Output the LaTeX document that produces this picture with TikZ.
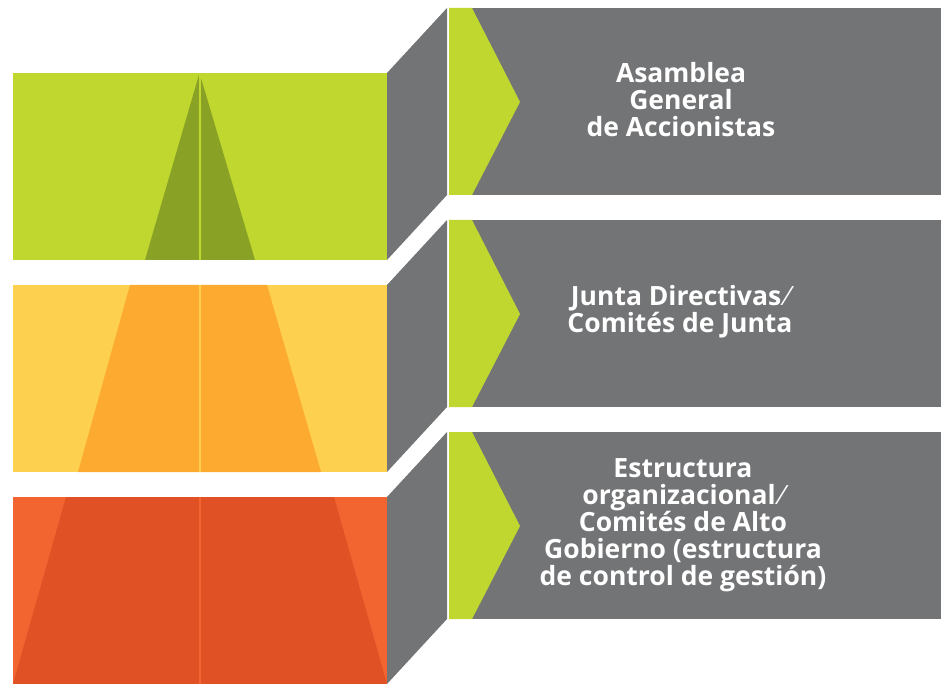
\documentclass[tikz,border=0pt]{standalone}
\usepackage{fontspec}
\setmainfont{Open Sans}
\usetikzlibrary{positioning}

\tikzset{
  titulo/.style={text=white, align=center, inner sep=0pt,
    font=\bfseries\fontsize{26.5}{27}\selectfont},
  panel/.style={fill=gris},
}

\begin{document}
\begin{tikzpicture}[x=1pt,y=-1pt]
      \definecolor{gris}{HTML}{737476}
      \definecolor{verde}{HTML}{C0D72F}
      \definecolor{verdeO}{HTML}{89A225}
      \definecolor{amar}{HTML}{FDD14F}
      \definecolor{naranja}{HTML}{FCAA30}
      \definecolor{rojo}{HTML}{F26531}
      \definecolor{rojoO}{HTML}{E05225}
      \useasboundingbox (0,0) rectangle (941,684);
      % nivel 1
      \fill[verde] (13,73) rectangle (387,260);
      \fill[verdeO] (199.5,73) -- (255,260) -- (145,260) -- cycle;
      \fill[verde] (198.5,73) rectangle (200.8,260);
      \fill[panel] (387,73) -- (447,8) -- (447,195) -- (387,260) -- cycle;
      \fill[panel] (449,8) rectangle (941,195);
      \fill[verde] (449,8) -- (472,8) -- (520,102) -- (472,195) -- (449,195) -- cycle;
      % nivel 2
      \fill[amar] (13,285) rectangle (387,472);
      \fill[naranja] (130,285) -- (267,285) -- (321,472) -- (78,472) -- cycle;
      \fill[amar] (198.5,285) rectangle (200.8,472);
      \fill[panel] (387,285) -- (447,220) -- (447,407) -- (387,472) -- cycle;
      \fill[panel] (449,220) rectangle (941,407);
      \fill[verde] (449,220) -- (472,220) -- (520,314) -- (472,407) -- (449,407) -- cycle;
      % nivel 3
      \fill[rojo] (13,497) rectangle (387,684);
      \fill[rojoO] (66,497) -- (334,497) -- (387,684) -- (13,684) -- cycle;
      \fill[rojo] (198.5,497) rectangle (200.8,684);
      \fill[panel] (387,497) -- (447,432) -- (447,619) -- (387,684) -- cycle;
      \fill[panel] (449,432) rectangle (941,619);
      \fill[verde] (449,432) -- (472,432) -- (520,526) -- (472,619) -- (449,619) -- cycle;
      % textos
      \node[titulo] (asamblea) at (681,100) {Asamblea\\General\\de Accionistas};
      \node[titulo] (junta) at (680,312) {Junta Directivas\,{\mdseries⁄}\\Comités de Junta};
      \node[titulo] (estructura) at (683,525) {Estructura\\organizacional\,{\mdseries⁄}\\Comités de Alto\\Gobierno (estructura\\de control de gestión)};
    \end{tikzpicture}
\end{document}
